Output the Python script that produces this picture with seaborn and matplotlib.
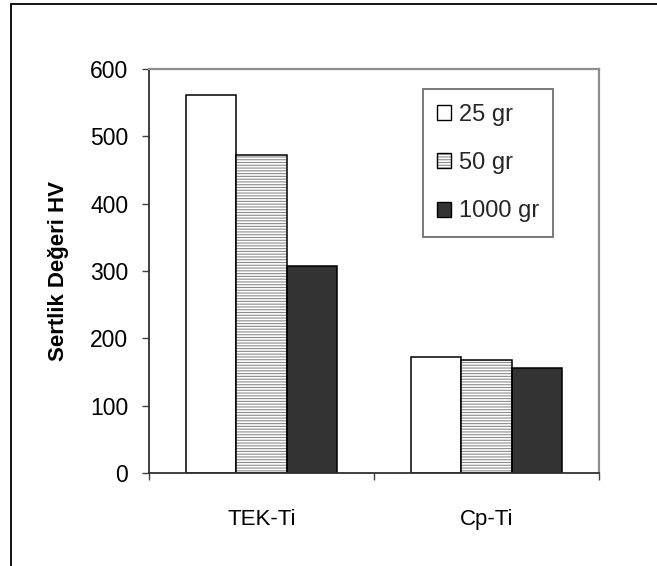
import matplotlib
matplotlib.use("Agg")
import matplotlib.pyplot as plt
from matplotlib.patches import Rectangle, Patch
from matplotlib.legend_handler import HandlerTuple
import seaborn as sns
import pandas as pd

# ---- data ----
categories = ["TEK-Ti", "Cp-Ti"]
loads = ["25 gr", "50 gr", "1000 gr"]
values_25 = [562, 173]
values_50 = [473, 168]
values_1000 = [307, 156]
y_ticks = [0, 100, 200, 300, 400, 500, 600]
y_label = "Sertlik Değeri HV"

rows = []
for load, vals in zip(loads, [values_25, values_50, values_1000]):
    for cat, v in zip(categories, vals):
        rows.append({"cat": cat, "load": load, "val": v})
df = pd.DataFrame(rows)

sns.set_theme(style="white")
plt.rcParams["font.family"] = ["Liberation Sans", "DejaVu Sans"]
plt.rcParams["hatch.linewidth"] = 0.8

W, H = 657, 566
fig = plt.figure(figsize=(W / 100, H / 100), dpi=100)
ax = fig.add_axes([149 / W, 1 - 473 / H, (599 - 149) / W, (473 - 69) / H])

fills = ["white", "white", "#333333"]
sns.barplot(data=df, x="cat", y="val", hue="load", order=categories,
            hue_order=loads, palette=fills, width=0.67, gap=0,
            saturation=1, edgecolor="black", linewidth=1.1, ax=ax,
            legend=False)

# hatch the 50 gr bars: grey horizontal lines with black outline on top
for cont, load in zip(ax.containers, loads):
    if load == "50 gr":
        for p in cont.patches:
            p.set_edgecolor("#8c8c8c")
            p.set_linewidth(0)
            p.set_hatch("------")
            ax.add_patch(Rectangle((p.get_x(), p.get_y()), p.get_width(),
                                   p.get_height(), fill=False,
                                   edgecolor="black", linewidth=1.1,
                                   zorder=p.get_zorder() + 0.1))

ax.set_ylim(0, 600)
ax.set_xlim(-0.5, 1.5)
ax.set_yticks(y_ticks)
ax.set_xticks(range(len(categories)))
ax.set_xticklabels(categories)
ax.set_xticks([-0.5, 0.5, 1.5], minor=True)
ax.tick_params(axis="x", which="major", length=0, pad=26, labelsize=16,
               colors="black")
ax.tick_params(axis="x", which="minor", length=5, width=1, color="#404040",
               direction="out", bottom=True)
ax.tick_params(axis="y", length=5, width=1, color="#404040", direction="out",
               left=True, labelsize=16.5, pad=10, labelcolor="black")
ax.set_xlabel("")
ax.set_ylabel(y_label, fontsize=16, fontweight="bold", labelpad=15,
              color="black")

for side in ["left", "bottom"]:
    ax.spines[side].set_color("#303030")
    ax.spines[side].set_linewidth(1.3)
for side in ["top", "right"]:
    ax.spines[side].set_visible(True)
    ax.spines[side].set_color("#8c8c8c")
    ax.spines[side].set_linewidth(1.6)

handles = [
    Patch(facecolor="white", edgecolor="black", linewidth=1.0),
    (Patch(facecolor="white", edgecolor="#8c8c8c", hatch="------", linewidth=0),
     Patch(facecolor="none", edgecolor="black", linewidth=1.0)),
    Patch(facecolor="#333333", edgecolor="black", linewidth=1.0),
]
leg = fig.legend(handles, loads, loc="center",
                 bbox_to_anchor=(488 / W, 1 - 163 / H),
                 handler_map={tuple: HandlerTuple(ndivide=1, pad=0)},
                 fontsize=17, frameon=True, fancybox=False, shadow=False,
                 framealpha=1, handlelength=0.6, handleheight=0.6,
                 handletextpad=0.3, labelspacing=1.12, borderpad=0.6)
leg.get_frame().set_edgecolor("#7a7a7a")
leg.get_frame().set_linewidth(1.4)

# figure border (left and top visible)
fig.add_artist(Rectangle((10.5 / W, -0.5), 2, (1 - 3.5 / H) + 0.5,
                         transform=fig.transFigure, fill=False,
                         edgecolor="black", linewidth=1.3))

fig.savefig("out.png", dpi=100)
